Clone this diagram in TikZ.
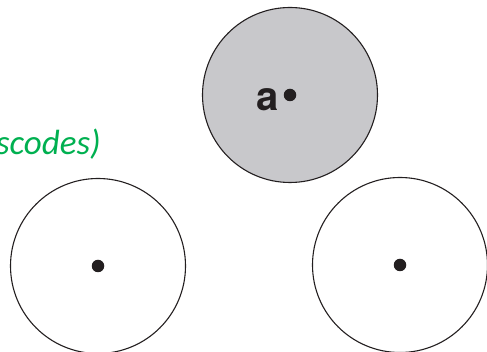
\documentclass[tikz,border=0pt]{standalone}
\usepackage{fontspec}
\setmainfont{Carlito}
\newfontfamily\heros{TeX Gyre Heros}
\definecolor{officegreen}{RGB}{0,176,80}
\definecolor{cellgray}{RGB}{200,200,203}
\definecolor{inkdark}{RGB}{35,31,32}
\begin{document}
\begin{tikzpicture}[x=1pt,y=1pt,
  cell/.style={circle,draw=inkdark,line width=1.1pt,minimum size=175pt,inner sep=0pt},
  dotmark/.style={circle,fill=inkdark,minimum size=12.5pt,inner sep=0pt}]
\useasboundingbox (0,0) rectangle (487,352);
\clip (0,0) rectangle (487,352);
\node[cell,fill=cellgray] (top) at (290,257) {};
\node[cell] (left) at (98,86) {};
\node[cell] (right) at (400,87) {};
\node[dotmark] (dtop) at (top.center) {};
\node[dotmark] (dleft) at (left.center) {};
\node[dotmark] (dright) at (right.center) {};
\node[anchor=base east,inner sep=0pt,text=inkdark,font=\heros\bfseries\fontsize{40}{44}\selectfont] (a) at (279,241) {a};
\node[anchor=base east,inner sep=0pt,text=officegreen,font=\itshape\fontsize{35}{40}\selectfont] (lbl) at (101,197) {scodes)};
\end{tikzpicture}
\end{document}
